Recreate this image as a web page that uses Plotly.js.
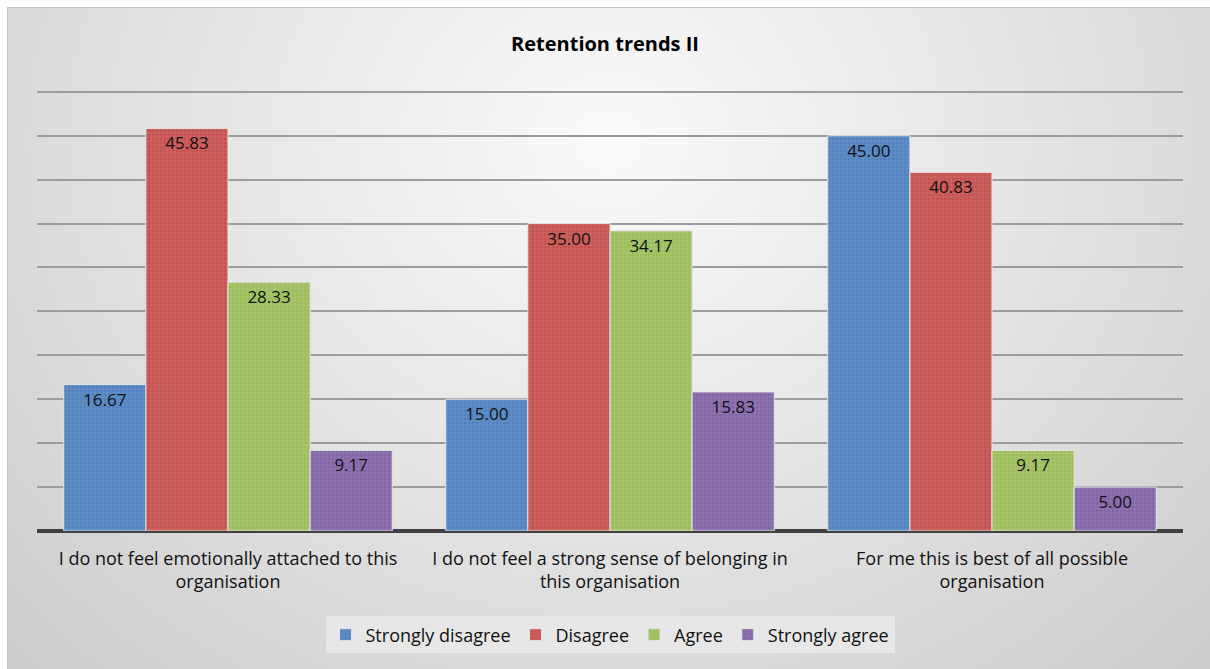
<!DOCTYPE html>
<html>
<head>
<meta charset="utf-8">
<script src="https://cdn.plot.ly/plotly-3.0.1.min.js"></script>
<style>
  body { margin: 0; background: #ffffff; }
  #frame {
    position: absolute; left: 7px; top: 7px; width: 1202px; height: 661px;
    border-left: 1px solid #c4c4c4; border-top: 1px solid #c4c4c4;
    background: radial-gradient(ellipse at 50% 20%, #fafafa 0%, #e6e6e6 45%, #cccccc 100%);
  }
  #chart { position: absolute; left: 0; top: 0; width: 1210px; height: 669px; }
</style>
</head>
<body>
<div id="frame"></div>
<div id="chart"></div>
<script>
// statements on the x axis (wrapped the way the original wraps them)
const statements = [
  "I do not feel emotionally attached to this<br>organisation",
  "I do not feel a strong sense of belonging in<br>this organisation",
  "For me this is best of all possible<br>organisation"
];

// percentages per response
const stronglyDisagree = [16.67, 15.00, 45.00];
const disagree = [45.83, 35.00, 40.83];
const agree = [28.33, 34.17, 9.17];
const stronglyAgree = [9.17, 15.83, 5.00];

const seriesNames = ["Strongly disagree", "Disagree", "Agree", "Strongly agree"];
const seriesValues = [stronglyDisagree, disagree, agree, stronglyAgree];
const seriesColors = ["#5282bf", "#c4524f", "#9dbd5b", "#8366a6"];
const patternColors = ["#82a6d6", "#dc8582", "#bcd693", "#a891c6"];

const fontFamily = "'Open Sans', 'Noto Sans', sans-serif";

const traces = seriesNames.map((name, i) => ({
  type: "bar",
  name: name,
  x: statements,
  y: seriesValues[i],
  text: seriesValues[i].map(v => v.toFixed(2)),
  textposition: "inside",
  insidetextanchor: "end",
  textangle: 0,
  textfont: { family: fontFamily, size: 17, color: "#111111" },
  marker: {
    color: seriesColors[i],
    line: { color: "#e4e4e4", width: 1 },
    pattern: {
      shape: "+", size: 4, solidity: 0.3,
      fillmode: "overlay", fgcolor: patternColors[i], fgopacity: 0.55
    }
  },
  hoverinfo: "skip"
}));

const layout = {
  width: 1210,
  height: 669,
  paper_bgcolor: "rgba(0,0,0,0)",
  plot_bgcolor: "rgba(0,0,0,0)",
  margin: { l: 37, r: 27, t: 83, b: 138 },
  font: { family: fontFamily, color: "#111111" },
  title: {
    text: "<b>Retention trends II</b>",
    font: { family: fontFamily, size: 20, color: "#000000" },
    x: 0.5, xanchor: "center",
    y: 0.934, yanchor: "middle"
  },
  barmode: "group",
  bargap: 0.14,
  bargroupgap: 0.0,
  xaxis: {
    type: "category",
    showgrid: false,
    showline: false,
    ticks: "",
    tickfont: { family: fontFamily, size: 18, color: "#111111" },
    ticklabelstandoff: 15
  },
  yaxis: {
    range: [0, 51],
    tickvals: [5, 10, 15, 20, 25, 30, 35, 40, 45, 50],
    showticklabels: false,
    showgrid: true,
    gridcolor: "#9c9c9c",
    gridwidth: 2,
    zeroline: true,
    zerolinecolor: "#404040",
    zerolinewidth: 4,
    fixedrange: true
  },
  showlegend: true,
  legend: {
    orientation: "h",
    x: 0.5, xanchor: "center",
    y: -0.232, yanchor: "middle",
    bgcolor: "#e7e7e7",
    borderwidth: 0,
    font: { family: fontFamily, size: 18, color: "#111111" },
    itemwidth: 30,
    traceorder: "normal"
  }
};

Plotly.newPlot("chart", traces, layout, { displayModeBar: false, staticPlot: true });
</script>
</body>
</html>
